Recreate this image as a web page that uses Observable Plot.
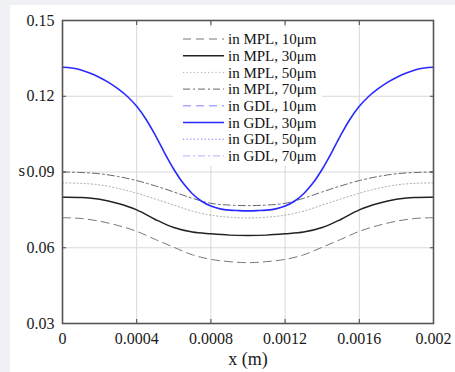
<!DOCTYPE html>
<html>
<head>
<meta charset="utf-8">
<script src="https://cdn.jsdelivr.net/npm/d3@7"></script>
<script src="https://cdn.jsdelivr.net/npm/@observablehq/plot@0.6"></script>
<style>
  html, body { margin: 0; padding: 0; }
  body { width: 455px; height: 372px; background: #f0f1f4; position: relative; overflow: hidden; font-family: 'Liberation Serif', 'Times New Roman', 'DejaVu Serif', serif; }
  #panel { position: absolute; left: 10px; top: 5px; width: 445px; height: 367px; background: #fff; }
  #legend { position: absolute; left: 173px; top: 27px; width: 149px; height: 139px; background: #fff; }
  svg text { font-family: 'Liberation Serif', 'Times New Roman', 'DejaVu Serif', serif; }
</style>
</head>
<body>
<div id="panel"></div>
<div id="legend"></div>
<script>
// ---- data ----
const xMPL = [0,0.0001,0.0002,0.0003,0.0004,0.0005,0.0006,0.0007,0.0008,0.0009,0.001,
              0.0011,0.0012,0.0013,0.0014,0.0015,0.0016,0.0017,0.0018,0.0019,0.002];
const mpl10 = [0.0719,0.0716,0.0705,0.0688,0.0665,0.0633,0.0602,0.0572,0.0554,0.0545,0.0541,
               0.0545,0.0554,0.0572,0.0602,0.0633,0.0665,0.0688,0.0705,0.0716,0.0719];
const mpl30 = [0.0800,0.0799,0.0792,0.0775,0.0750,0.0712,0.0680,0.0662,0.0655,0.0650,0.0649,
               0.0650,0.0655,0.0662,0.0680,0.0712,0.0750,0.0775,0.0792,0.0799,0.0800];
const mpl50 = [0.0857,0.0855,0.0849,0.0835,0.0816,0.0793,0.0769,0.0745,0.0729,0.0721,0.0718,
               0.0721,0.0729,0.0745,0.0769,0.0793,0.0816,0.0835,0.0849,0.0855,0.0857];
const mpl70 = [0.0900,0.0898,0.0893,0.0882,0.0866,0.0845,0.0821,0.0796,0.0776,0.0769,0.0767,
               0.0769,0.0776,0.0796,0.0821,0.0845,0.0866,0.0882,0.0893,0.0898,0.0900];
const xGDL = [0,0.00005,0.0001,0.00015,0.0002,0.00025,0.0003,0.00035,0.0004,0.00045,0.0005,
              0.00055,0.0006,0.00065,0.0007,0.00075,0.0008,0.00085,0.0009,0.00095,0.001,
              0.00105,0.0011,0.00115,0.0012,0.00125,0.0013,0.00135,0.0014,0.00145,0.0015,
              0.00155,0.0016,0.00165,0.0017,0.00175,0.0018,0.00185,0.0019,0.00195,0.002];
const gdl30 = [0.1315,0.1312,0.1304,0.1291,0.1274,0.1254,0.1229,0.1199,0.1160,0.1109,0.1046,
               0.0976,0.0911,0.0856,0.0814,0.0784,0.0765,0.0754,0.0749,0.0747,0.0746,
               0.0747,0.0749,0.0754,0.0765,0.0784,0.0814,0.0856,0.0911,0.0976,0.1046,
               0.1109,0.1160,0.1199,0.1229,0.1254,0.1274,0.1291,0.1304,0.1312,0.1315];
const xTicks = [0,0.0004,0.0008,0.0012,0.0016,0.002];
const xTickLabels = ["0","0.0004","0.0008","0.0012","0.0016","0.002"];
const yTicks = [0.03,0.06,0.09,0.12,0.15];
const yTickLabels = ["0.03","0.06","0.09","0.12","0.15"];
const legendLabels = ["in MPL, 10μm","in MPL, 30μm","in MPL, 50μm","in MPL, 70μm",
                      "in GDL, 10μm","in GDL, 30μm","in GDL, 50μm","in GDL, 70μm"];
const xLabel = "x (m)";
const yLabel = "s";

// ---- styles ----
const FONT = "'Liberation Serif', 'Times New Roman', 'DejaVu Serif', serif";
const styles = [
  {stroke: "#777", strokeWidth: 1, dash: "8,5"},
  {stroke: "#222", strokeWidth: 1.5, dash: null},
  {stroke: "#aaa", strokeWidth: 1, dash: "1.2,2.4"},
  {stroke: "#666", strokeWidth: 1, dash: "7,3,2,3"},
  {stroke: "#8080ff", strokeWidth: 1, dash: "8,5"},
  {stroke: "#2a2aff", strokeWidth: 1.6, dash: null},
  {stroke: "#7070ff", strokeWidth: 1, dash: "1.2,2.4"},
  {stroke: "#b0b0ff", strokeWidth: 1, dash: "7,3,2,3"}
];

const toRows = (xs, ys) => xs.map((x, i) => ({x, y: ys[i]}));
const lineMark = (rows, s) => Plot.line(rows, {x: "x", y: "y", stroke: s.stroke, strokeWidth: s.strokeWidth,
  strokeDasharray: s.dash ?? undefined, curve: "catmull-rom"});

const fmtX = d => xTickLabels[xTicks.indexOf(d)];
const fmtY = d => yTickLabels[yTicks.indexOf(d)];

const chart = Plot.plot({
  width: 445, height: 367,
  marginLeft: 52, marginRight: 22, marginTop: 15, marginBottom: 49,
  style: {fontFamily: FONT, fontSize: "16px", color: "#222", background: "#fff"},
  x: {domain: [0, 0.002]},
  y: {domain: [0.03, 0.15]},
  marks: [
    Plot.gridX(xTicks.slice(1, -1), {stroke: "#d8d8d8", strokeOpacity: 1, strokeWidth: 1}),
    Plot.gridY(yTicks.slice(1, -1), {stroke: "#d8d8d8", strokeOpacity: 1, strokeWidth: 1}),
    lineMark(toRows(xMPL, mpl10), styles[0]),
    lineMark(toRows(xMPL, mpl30), styles[1]),
    lineMark(toRows(xMPL, mpl50), styles[2]),
    lineMark(toRows(xMPL, mpl70), styles[3]),
    lineMark(toRows(xGDL, gdl30), styles[5]),
    Plot.axisX(xTicks, {anchor: "bottom", tickSize: 0, tickPadding: 9, tickFormat: fmtX, label: null, fill: "#1a1a1a", fontSize: 16}),
    Plot.axisX(xTicks, {anchor: "bottom", tickSize: -4, tickFormat: () => "", label: null, stroke: "#444"}),
    Plot.axisX(xTicks, {anchor: "top", tickSize: -4, tickFormat: () => "", label: null, stroke: "#444"}),
    Plot.axisY(yTicks, {anchor: "left", tickSize: 0, tickPadding: 8, tickFormat: fmtY, label: null, fill: "#1a1a1a", fontSize: 16}),
    Plot.axisY(yTicks, {anchor: "left", tickSize: -4, tickFormat: () => "", label: null, stroke: "#444"}),
    Plot.axisY(yTicks, {anchor: "right", tickSize: -4, tickFormat: () => "", label: null, stroke: "#444"}),
    Plot.frame({stroke: "#555", strokeWidth: 1.6}),
    Plot.text([xLabel], {frameAnchor: "bottom", dy: 41, fontSize: 18, fill: "#1a1a1a"}),
    Plot.text([yLabel], {frameAnchor: "left", dx: -44, dy: -1, fontSize: 17, fill: "#1a1a1a"})
  ]
});
document.getElementById("panel").appendChild(chart);

// ---- legend (inside plot area, white box) ----
const lg = d3.select("#legend").append("svg").attr("width", 149).attr("height", 139);
legendLabels.forEach((lab, i) => {
  const s = styles[i];
  const cy = 12 + i * 16.7;
  lg.append("line").attr("x1", 10).attr("x2", 51).attr("y1", cy).attr("y2", cy)
    .attr("stroke", s.stroke).attr("stroke-width", s.strokeWidth)
    .attr("stroke-dasharray", s.dash);
  lg.append("text").attr("x", 55).attr("y", cy).attr("dy", "0.35em")
    .attr("font-family", FONT).attr("font-size", 15).attr("fill", "#111")
    .text(lab);
});
</script>
</body>
</html>
